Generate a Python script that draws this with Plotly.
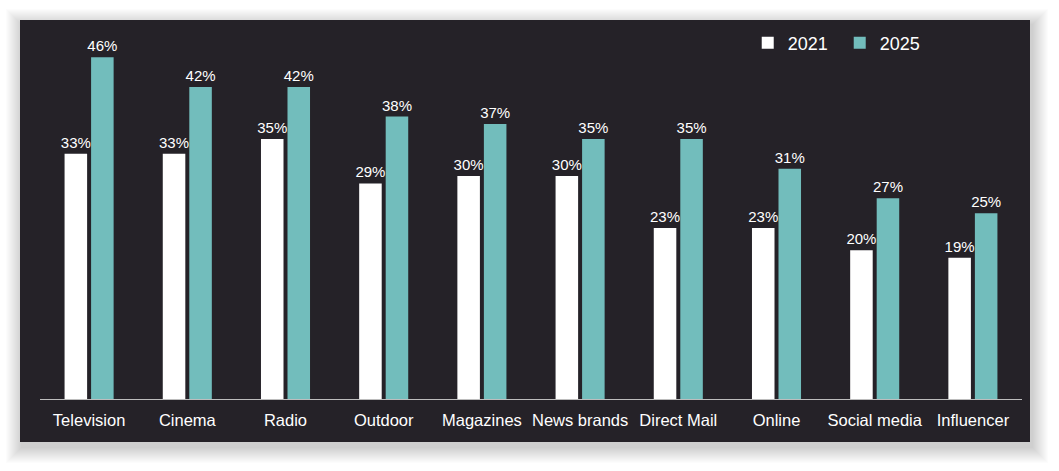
import plotly.graph_objects as go

categories = ["Television", "Cinema", "Radio", "Outdoor", "Magazines",
              "News brands", "Direct Mail", "Online", "Social media", "Influencer"]
values_2021 = [33, 33, 35, 29, 30, 30, 23, 23, 20, 19]
values_2025 = [46, 42, 42, 38, 37, 35, 35, 31, 27, 25]

W, H = 1059, 471
L, R, T, B = 40, 37, 20, 72
DARK = "#252228"
TEAL = "#72bdbc"

fig = go.Figure()
fig.add_trace(go.Bar(
    x=categories, y=values_2021, name="2021",
    marker=dict(color="#ffffff", line=dict(width=0)),
    text=[f"{v}%" for v in values_2021], textposition="outside",
    constraintext="none",
    textfont=dict(color="#ffffff", size=15), cliponaxis=False,
))
fig.add_trace(go.Bar(
    x=categories, y=values_2025, name="2025",
    marker=dict(color=TEAL, line=dict(width=0)),
    text=[f"{v}%" for v in values_2025], textposition="outside",
    constraintext="none",
    textfont=dict(color="#ffffff", size=15), cliponaxis=False,
))

# panel shadow and panel (paper coordinates converted from pixels)
def px_rect(x0, y0, x1, y1):
    pw, ph = W - L - R, H - T - B
    return dict(x0=(x0 - L) / pw, x1=(x1 - L) / pw,
                y0=(H - B - y1) / ph, y1=(H - B - y0) / ph)

shapes = []
for g in range(16, 0, -1):
    r = px_rect(20 - g + 2, 20 - g + 5, 1030 + g + 2, 442 + g + 5)
    shapes.append(dict(type="rect", xref="paper", yref="paper", layer="below",
                       fillcolor="rgba(0,0,0,0.013)", line=dict(width=0), **r))
r = px_rect(20, 20, 1030, 442)
shapes.append(dict(type="rect", xref="paper", yref="paper", layer="below",
                   fillcolor=DARK, line=dict(width=0), **r))

fig.update_layout(
    width=W, height=H,
    margin=dict(l=L, r=R, t=T, b=B),
    paper_bgcolor="#ffffff",
    plot_bgcolor="rgba(0,0,0,0)",
    barmode="group", bargap=0.46, bargroupgap=0.15,
    font=dict(family="Liberation Sans, Arial, sans-serif", color="#ffffff", size=15),
    shapes=shapes,
    showlegend=True,
    legend=dict(orientation="h", x=0.7207, xanchor="left", y=0.939, yanchor="middle",
                bgcolor="rgba(0,0,0,0)", font=dict(size=18, color="#ffffff"),
                itemwidth=30, entrywidth=47, traceorder="normal"),
    xaxis=dict(showline=True, linecolor="#bdbdbd", linewidth=1,
               ticks="", tickfont=dict(size=16.5, color="#ffffff"),
               ticklabelstandoff=6,
               showgrid=False, fixedrange=True),
    yaxis=dict(range=[0, 51], visible=False, showgrid=False, zeroline=False),
)

fig.write_html("out.html", config={"displayModeBar": False},
               post_script="document.body.style.margin='0';document.body.style.overflow='hidden';")
